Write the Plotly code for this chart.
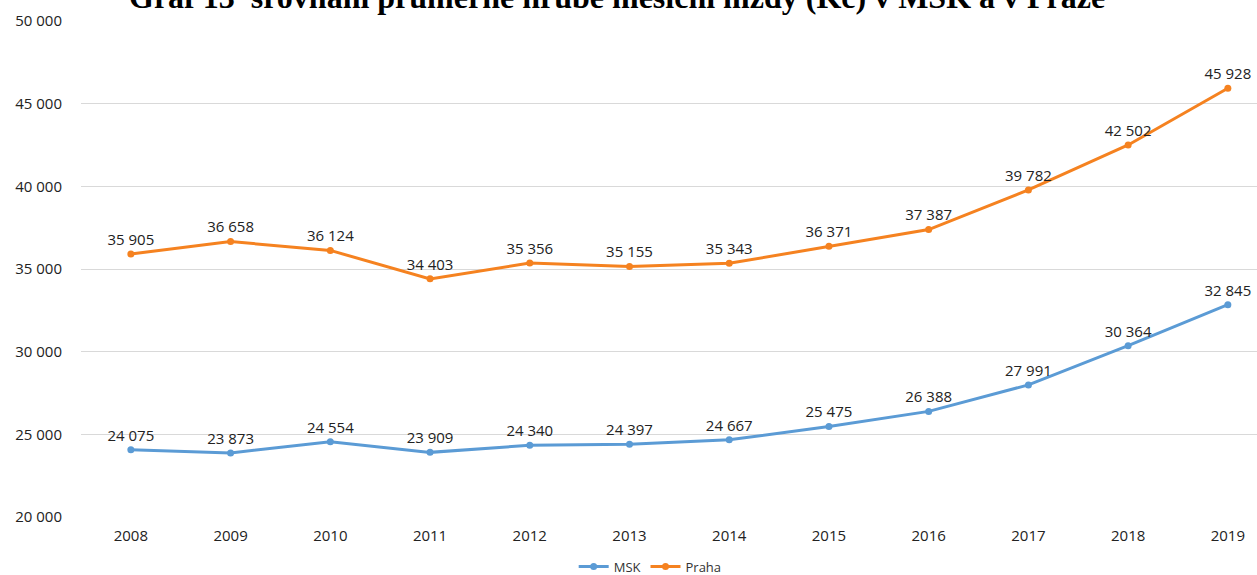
import plotly.graph_objects as go

years = ["2008", "2009", "2010", "2011", "2012", "2013", "2014", "2015", "2016", "2017", "2018", "2019"]
msk = [24075, 23873, 24554, 23909, 24340, 24397, 24667, 25475, 26388, 27991, 30364, 32845]
praha = [35905, 36658, 36124, 34403, 35356, 35155, 35343, 36371, 37387, 39782, 42502, 45928]
y_ticks = [20000, 25000, 30000, 35000, 40000, 45000, 50000]
title_text = "Graf 13  srovnání průměrné hrubé měsíční mzdy (Kč) v MSK a v Praze"

W, H = 1257, 575
L, R, T, B = 81, 0, 21, 58

blue = "#5B9BD5"
orange = "#F58220"
label_font = dict(family="Open Sans", size=15, color="#222222")

fig = go.Figure()
for name, vals, col in [("MSK", msk, blue), ("Praha", praha, orange)]:
    fig.add_trace(go.Scatter(
        x=years, y=vals, name=name,
        mode="lines+markers+text",
        line=dict(color=col, width=3),
        marker=dict(color=col, size=7),
        text=vals, texttemplate="%{y:,d}",
        textposition="top center",
        textfont=label_font,
        cliponaxis=False,
    ))

plot_w = W - L - R
px_per_cat = (1228 - 131) / 11

fig.update_layout(
    width=W, height=H,
    margin=dict(l=L, r=R, t=T, b=B, autoexpand=False),
    paper_bgcolor="white", plot_bgcolor="white",
    separators=", ",
    showlegend=True,
    legend=dict(orientation="h", x=0.484, xanchor="center", y=-0.1, yanchor="middle",
                font=dict(family="Open Sans", size=13, color="#333333")),
    xaxis=dict(type="category", range=[-0.5, -0.5 + plot_w / px_per_cat],
               showgrid=False, showline=False, zeroline=False, ticks="",
               tickfont=dict(family="Open Sans", size=15, color="#222222"),
               ticklabelstandoff=8),
    yaxis=dict(range=[20000, 50000], tickvals=y_ticks, tickformat=",d",
               showgrid=True, gridcolor="#D9D9D9", gridwidth=1,
               showline=False, zeroline=False, ticks="",
               tickfont=dict(family="Open Sans", size=15, color="#222222"),
               ticklabelstandoff=18),
    annotations=[dict(text="<b>" + title_text + "</b>", xref="paper", yref="paper",
                      x=0.456, y=1, xanchor="center", yanchor="bottom", yshift=4,
                      showarrow=False,
                      font=dict(family="Liberation Serif", size=32, color="black"))],
)

fig.write_html("out.html")
